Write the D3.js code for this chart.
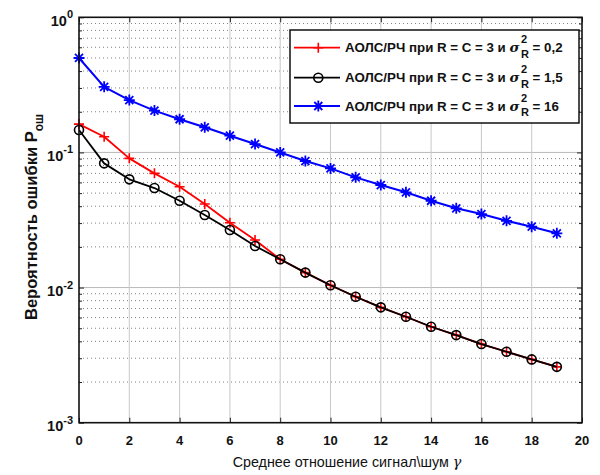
<!DOCTYPE html>
<html>
<head>
<meta charset="utf-8">
<script src="https://cdn.jsdelivr.net/npm/d3@7"></script>
<style>
  html, body { margin: 0; padding: 0; background: #fff; }
  svg { display: block; font-family: "Liberation Sans", Arial, Helvetica, sans-serif; }
  svg text { white-space: pre; }
</style>
</head>
<body>
<svg id="chart" width="600" height="475"></svg>
<script>
// Average SNR values (x axis)
const gamma = [0,1,2,3,4,5,6,7,8,9,10,11,12,13,14,15,16,17,18,19];

// Error probability for R = C = 3, sigma_R^2 = 0.2
const pSigma02 = [0.162,0.1306,0.0904,0.070,0.0557,0.0415,0.0302,0.0225,0.0162,0.0129,
                  0.0104,0.00855,0.00714,0.00608,0.00513,0.00445,0.00382,0.00335,0.00294,0.00259];
// Error probability for R = C = 3, sigma_R^2 = 1.5
const pSigma15 = [0.1466,0.083,0.0632,0.0545,0.0439,0.0344,0.0267,0.0203,0.0162,0.0129,
                  0.0104,0.00855,0.00714,0.00608,0.00513,0.00445,0.00382,0.00335,0.00294,0.00259];
// Error probability for R = C = 3, sigma_R^2 = 16
const pSigma16 = [0.5,0.306,0.244,0.204,0.176,0.1534,0.133,0.1154,0.100,0.0864,
                  0.0762,0.0654,0.0574,0.0507,0.0439,0.0386,0.035,0.0312,0.0282,0.0252];

const xTicks = [0,2,4,6,8,10,12,14,16,18,20];
const yDecades = [-3,-2,-1,0];
const seriesVar = ["0,2", "1,5", "16"];

const svg = d3.select("#chart");
const L = 79, R = 582, T = 17.3, B = 422.7;

const x = d3.scaleLinear().domain([0, 20]).range([L, R]);
const y = d3.scaleLog().domain([1e-3, 1]).range([B, T]);

// minor log values
const minors = [];
for (let e = -3; e < 0; e++) for (let k = 2; k <= 9; k++) minors.push(k * Math.pow(10, e));

const grid = svg.append("g");
// dotted minor horizontal grid
grid.selectAll("line.minor").data(minors).enter().append("line")
  .attr("x1", L).attr("x2", R)
  .attr("y1", d => y(d)).attr("y2", d => y(d))
  .attr("stroke", "#808080").attr("stroke-width", 1).attr("stroke-dasharray", "1,3");
// solid decade lines
grid.selectAll("line.dec").data(yDecades.slice(1, 3)).enter().append("line")
  .attr("x1", L).attr("x2", R)
  .attr("y1", d => y(Math.pow(10, d))).attr("y2", d => y(Math.pow(10, d)))
  .attr("stroke", "#b8b8b8").attr("stroke-width", 1);
// vertical grid
grid.selectAll("line.v").data(xTicks.slice(1, -1)).enter().append("line")
  .attr("x1", d => x(d)).attr("x2", d => x(d))
  .attr("y1", T).attr("y2", B)
  .attr("stroke", "#c8c8c8").attr("stroke-width", 1);

// axes with inward ticks
const axB = d3.axisBottom(x).tickValues(xTicks).tickSize(-5).tickFormat("");
const axT = d3.axisTop(x).tickValues(xTicks).tickSize(-5).tickFormat("");
const yMajor = yDecades.map(d => Math.pow(10, d));
const axL = d3.axisLeft(y).tickValues(yMajor).tickSize(-5).tickFormat("");
const axR = d3.axisRight(y).tickValues(yMajor).tickSize(-5).tickFormat("");
const axLm = d3.axisLeft(y).tickValues(minors).tickSize(-3).tickFormat("");
const axRm = d3.axisRight(y).tickValues(minors).tickSize(-3).tickFormat("");

function addAxis(ax, tx, ty) {
  const g = svg.append("g").attr("transform", `translate(${tx},${ty})`).call(ax);
  g.select(".domain").remove();
  g.selectAll(".tick line").attr("stroke", "#222").attr("stroke-width", 1);
  return g;
}
addAxis(axB, 0, B); addAxis(axT, 0, T);
addAxis(axL, L, 0); addAxis(axR, R, 0);
addAxis(axLm, L, 0); addAxis(axRm, R, 0);

// x tick labels
svg.append("g").selectAll("text").data(xTicks).enter().append("text")
  .attr("x", d => x(d)).attr("y", 445)
  .attr("text-anchor", "middle").attr("font-size", 13).attr("font-weight", "bold")
  .attr("fill", "#111").text(d => d);

// y tick labels 10^n
const yl = svg.append("g").selectAll("text").data(yDecades).enter().append("text")
  .attr("x", 73).attr("y", d => y(Math.pow(10, d)) + 8.5)
  .attr("text-anchor", "end").attr("font-size", 14.5).attr("font-weight", "bold").attr("fill", "#111");
yl.append("tspan").text("10");
yl.append("tspan").attr("dy", -7.5).attr("font-size", 11).text(d => d === 0 ? "0" : String(d));

// series
const line = d3.line().x((d, i) => x(gamma[i])).y(d => y(d));
const series = [
  { data: pSigma02, color: "#ff0000", marker: "plus", width: 1.8 },
  { data: pSigma15, color: "#000000", marker: "circle", width: 1.8 },
  { data: pSigma16, color: "#0000ff", marker: "star", width: 2 }
];

function drawMarker(g, type, color) {
  if (type === "plus") {
    g.append("path").attr("d", "M-5,0H5M0,-5V5").attr("stroke", color).attr("stroke-width", 1.6).attr("fill", "none");
  } else if (type === "circle") {
    g.append("circle").attr("r", 4.5).attr("stroke", color).attr("stroke-width", 1.6).attr("fill", "none");
  } else {
    g.append("path").attr("d", "M-5.5,0H5.5M0,-5.5V5.5M-4,-4L4,4M-4,4L4,-4")
      .attr("stroke", color).attr("stroke-width", 1.8).attr("fill", "none");
  }
}

const plot = svg.append("g");
series.forEach(s => {
  plot.append("path").datum(s.data).attr("d", line)
    .attr("fill", "none").attr("stroke", s.color).attr("stroke-width", s.width)
    .attr("stroke-linejoin", "round");
  s.data.forEach((v, i) => {
    const g = plot.append("g").attr("transform", `translate(${x(gamma[i])},${y(v)})`);
    drawMarker(g, s.marker, s.color);
  });
});

// plot frame
svg.append("rect").attr("x", L).attr("y", T).attr("width", R - L).attr("height", B - T)
  .attr("fill", "none").attr("stroke", "#111").attr("stroke-width", 1.6);

// legend
const lg = svg.append("g");
lg.append("rect").attr("x", 290).attr("y", 30).attr("width", 289).attr("height", 93)
  .attr("fill", "#fff").attr("stroke", "#111").attr("stroke-width", 1.5);
const rowY = [47.7, 77.7, 106];
series.forEach((s, i) => {
  const cy = rowY[i];
  lg.append("line").attr("x1", 294).attr("x2", 340).attr("y1", cy).attr("y2", cy)
    .attr("stroke", s.color).attr("stroke-width", s.width);
  const mg = lg.append("g").attr("transform", `translate(318.3,${cy})`);
  drawMarker(mg, s.marker, s.color);
  const base = cy + 4.7;
  const t1 = lg.append("text").attr("x", 345).attr("y", base)
    .attr("font-size", 13.3).attr("font-weight", "bold").attr("fill", "#111")
    .text("АОЛС/РЧ при R = C = 3 и ");
  const w1 = t1.node().getComputedTextLength();
  const sx = 345 + w1;
  const sig = lg.append("text").attr("x", sx).attr("y", base)
    .attr("font-size", 13.5).attr("font-style", "italic").attr("font-weight", "bold")
    .attr("font-family", "'DejaVu Serif', 'Liberation Serif', serif").attr("fill", "#111").text("σ");
  const ws = sig.node().getComputedTextLength();
  const px = sx + ws + 1.5;
  const sup = lg.append("text").attr("x", px).attr("y", base - 9)
    .attr("font-size", 11).attr("font-weight", "bold").attr("fill", "#111").text("2");
  const sub = lg.append("text").attr("x", px).attr("y", base + 5.5)
    .attr("font-size", 11).attr("font-weight", "bold").attr("fill", "#111").text("R");
  const wp = Math.max(sup.node().getComputedTextLength(), sub.node().getComputedTextLength());
  lg.append("text").attr("x", px + wp).attr("y", base)
    .attr("font-size", 13.3).attr("font-weight", "bold").attr("fill", "#111")
    .text(" = " + seriesVar[i]);
});

// axis labels
const xl = svg.append("text").attr("x", 347).attr("y", 467)
  .attr("text-anchor", "middle").attr("font-size", 14.3).attr("fill", "#111");
xl.append("tspan").text("Среднее отношение сигнал\\шум ");
xl.append("tspan").attr("font-family", "'DejaVu Serif', 'Liberation Serif', serif")
  .attr("font-style", "italic").text("γ");

const ylab = svg.append("text")
  .attr("transform", "translate(37,217) rotate(-90)")
  .attr("text-anchor", "middle").attr("font-size", 16.5).attr("font-weight", "bold").attr("fill", "#111");
ylab.append("tspan").text("Вероятность ошибки P");
ylab.append("tspan").attr("dy", 5.5).attr("font-size", 12).text("ош");
</script>
</body>
</html>
